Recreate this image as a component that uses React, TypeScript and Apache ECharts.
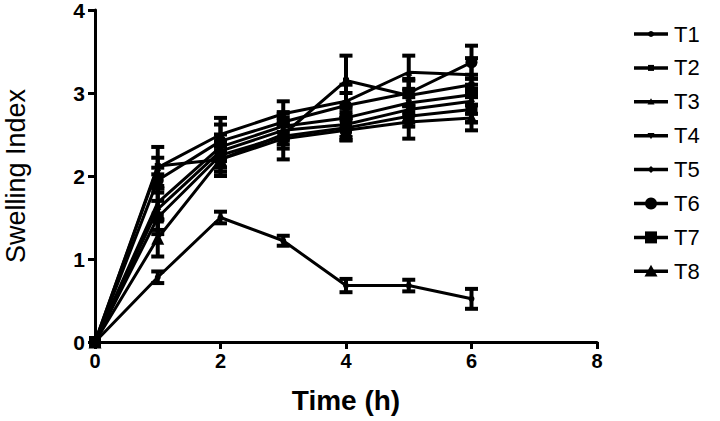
import React, { useEffect, useRef } from "react";
import * as echarts from "echarts";

const times = [0, 1, 2, 3, 4, 5, 6];
const seriesNames = ["T1", "T2", "T3", "T4", "T5", "T6", "T7", "T8"];
const T1 = [0, 0.78, 1.5, 1.22, 0.68, 0.68, 0.52];
const T2 = [0, 2.12, 2.2, 2.5, 3.15, 2.97, 3.1];
const T3 = [0, 2.1, 2.5, 2.75, 2.9, 3.25, 3.22];
const T4 = [0, 1.68, 2.35, 2.6, 2.7, 2.88, 2.98];
const T5 = [0, 1.6, 2.3, 2.55, 2.62, 2.8, 2.9];
const T6 = [0, 1.95, 2.42, 2.65, 2.85, 3.0, 3.37];
const T7 = [0, 1.5, 2.25, 2.48, 2.58, 2.72, 2.8];
const T8 = [0, 1.25, 2.2, 2.45, 2.55, 2.65, 2.7];
const E1 = [0, 0.07, 0.07, 0.06, 0.08, 0.07, 0.12];
const E2 = [0, 0.1, 0.15, 0.12, 0.3, 0.2, 0.12];
const E3 = [0, 0.25, 0.2, 0.15, 0.2, 0.2, 0.2];
const E4 = [0, 0.2, 0.15, 0.15, 0.12, 0.15, 0.12];
const E5 = [0, 0.25, 0.12, 0.12, 0.15, 0.15, 0.15];
const E6 = [0, 0.15, 0.2, 0.12, 0.15, 0.15, 0.2];
const E7 = [0, 0.2, 0.15, 0.15, 0.15, 0.12, 0.15];
const E8 = [0, 0.22, 0.2, 0.25, 0.12, 0.2, 0.15];
const xTicks = [0, 2, 4, 6, 8];
const yTicks = [0, 1, 2, 3, 4];

const values = [T1, T2, T3, T4, T5, T6, T7, T8];
const errors = [E1, E2, E3, E4, E5, E6, E7, E8];
const symbols = ["circle", "rect", "triangle", "path://M0,0 L10,0 L5,10 Z", "diamond", "circle", "rect", "triangle"];
const sizes = [6, 6, 7, 7, 7, 12, 12, 13];

function legendMarker(i: number, cx: number, cy: number): any {
  const st = { fill: "#000" };
  const s = sizes[i] / 2;
  switch (i) {
    case 0:
    case 5:
      return { type: "circle", shape: { cx, cy, r: s }, style: st };
    case 1:
    case 6:
      return { type: "rect", shape: { x: cx - s, y: cy - s, width: 2 * s, height: 2 * s }, style: st };
    case 2:
    case 7:
      return { type: "polygon", shape: { points: [[cx, cy - s], [cx + s, cy + s * 0.8], [cx - s, cy + s * 0.8]] }, style: st };
    case 3:
      return { type: "polygon", shape: { points: [[cx - s, cy - s * 0.8], [cx + s, cy - s * 0.8], [cx, cy + s]] }, style: st };
    default:
      return { type: "polygon", shape: { points: [[cx, cy - s], [cx + s, cy], [cx, cy + s], [cx - s, cy]] }, style: st };
  }
}

export default function App() {
  const ref = useRef<HTMLDivElement>(null);
  useEffect(() => {
    if (!ref.current) return;
    const chart = echarts.init(ref.current, undefined, { renderer: "svg" });
    const font = "'Liberation Sans', Arial, sans-serif";
    const lineSeries = seriesNames.map((name, i) => ({
      name,
      type: "line",
      data: times.map((t, j) => [t, values[i][j]]),
      symbol: symbols[i],
      symbolSize: sizes[i],
      showSymbol: true,
      lineStyle: { color: "#000", width: 3 },
      itemStyle: { color: "#000" },
      z: 3,
    }));
    const errSeries = seriesNames.map((name, i) => ({
      name: name + "_err",
      type: "custom",
      data: times.map((t, j) => [t, values[i][j], errors[i][j]]),
      encode: { x: 0, y: 1 },
      z: 4,
      renderItem: (params: any, api: any) => {
        const x = api.value(0);
        const y = api.value(1);
        const e = api.value(2);
        if (!e) return null;
        const top = api.coord([x, y + e]);
        const bot = api.coord([x, y - e]);
        const hw = 6.5;
        const style = { stroke: "#000", lineWidth: 4 };
        return {
          type: "group",
          children: [
            { type: "line", shape: { x1: top[0], y1: top[1], x2: bot[0], y2: bot[1] }, style },
            { type: "line", shape: { x1: top[0] - hw, y1: top[1], x2: top[0] + hw, y2: top[1] }, style },
            { type: "line", shape: { x1: bot[0] - hw, y1: bot[1], x2: bot[0] + hw, y2: bot[1] }, style },
          ],
        };
      },
    }));
    const legendEls: any[] = [];
    seriesNames.forEach((name, i) => {
      const cy = 34 + i * 33.9;
      legendEls.push({ type: "line", shape: { x1: 634, y1: cy, x2: 668, y2: cy }, style: { stroke: "#000", lineWidth: 3.5 } });
      legendEls.push(legendMarker(i, 651, cy));
      legendEls.push({
        type: "text",
        x: 674,
        y: cy,
        style: { text: name, fontSize: 22, fill: "#000", fontFamily: font, verticalAlign: "middle", align: "left" },
      });
    });
    chart.setOption({
      animation: false,
      grid: { left: 95, right: 123, top: 10, bottom: 79, outerBoundsMode: "none", containLabel: false },
      graphic: legendEls,
      xAxis: {
        type: "value",
        min: 0,
        max: 8,
        interval: 2,
        name: "Time (h)",
        nameLocation: "middle",
        nameGap: 44,
        nameTextStyle: { fontSize: 28, fontWeight: "bold", color: "#000", fontFamily: font },
        axisLine: { lineStyle: { color: "#000", width: 3 } },
        axisTick: { show: true, length: 7, lineStyle: { color: "#000", width: 3 } },
        axisLabel: { fontSize: 20, fontWeight: "bold", color: "#000", margin: 9, fontFamily: font },
        splitLine: { show: false },
      },
      yAxis: {
        type: "value",
        min: 0,
        max: 4,
        interval: 1,
        name: "Swelling Index",
        nameLocation: "middle",
        nameGap: 66,
        nameTextStyle: { fontSize: 27, color: "#000", fontFamily: font },
        axisLine: { lineStyle: { color: "#000", width: 3 } },
        axisTick: { show: true, length: 7, lineStyle: { color: "#000", width: 3 } },
        axisLabel: { fontSize: 21, fontWeight: "bold", color: "#000", margin: 10, fontFamily: font },
        splitLine: { show: false },
      },
      series: [...lineSeries, ...errSeries],
    });
    return () => chart.dispose();
  }, []);
  return <div ref={ref} style={{ position: "absolute", left: 0, top: 0, width: 720, height: 421 }} />;
}
